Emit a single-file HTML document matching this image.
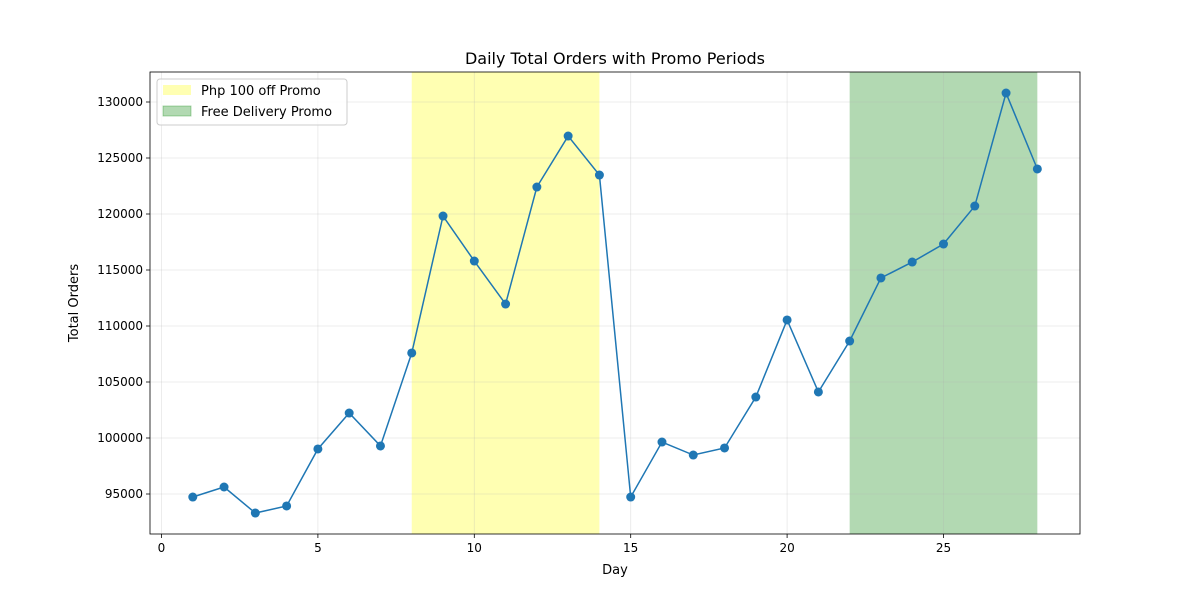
<!DOCTYPE html>
<html><head><meta charset="utf-8">
<style>
html,body{margin:0;padding:0;background:#fff;}
svg{display:block;font-family:"DejaVu Sans","Liberation Sans",sans-serif;}
</style></head>
<body>
<svg id="chart" width="1200" height="600"></svg>
<script>
const days = [1,2,3,4,5,6,7,8,9,10,11,12,13,14,15,16,17,18,19,20,21,22,23,24,25,26,27,28];
const orders = [94730,95625,93300,93930,99020,102230,99290,107590,119820,115800,111960,122410,126960,123480,94730,99640,98480,99110,103660,110540,104110,108660,114290,115710,117320,120710,130800,124020];
const xTicks = [0,5,10,15,20,25];
const yTicks = [95000,100000,105000,110000,115000,120000,125000,130000];
const promo1 = [8,14];
const promo2 = [22,28];

const L=150,R=1080,T=72,B=534;
const x = d => 161.5 + (d-0)*(943.5-161.5)/25;
const y = v => 494 - (v-95000)*(494-102)/35000;
const NS="http://www.w3.org/2000/svg";
const svg=document.getElementById('chart');
function mk(tag,attrs,parent){const e=document.createElementNS(NS,tag);for(const k in attrs)e.setAttribute(k,attrs[k]);(parent||svg).appendChild(e);return e;}

const s1=mk('rect',{x:x(promo1[0]),y:T,width:x(promo1[1])-x(promo1[0]),height:B-T,fill:'#ffff00','fill-opacity':0.3});


const s2=mk('rect',{x:x(promo2[0]),y:T,width:x(promo2[1])-x(promo2[0]),height:B-T,fill:'#008000','fill-opacity':0.3});



xTicks.forEach(t=>{
  const g=mk('line',{x1:x(t),x2:x(t),y1:T,y2:B,stroke:'#b0b0b0','stroke-opacity':0.3,'stroke-width':0.8});
  
  
  mk('line',{x1:x(t),x2:x(t),y1:B,y2:B+4,stroke:'#000','stroke-width':0.8});
  const tx=mk('text',{x:x(t),y:B+18,'text-anchor':'middle','font-size':12});
  tx.textContent=t;
  
  
});
yTicks.forEach(t=>{
  const g=mk('line',{x1:L,x2:R,y1:y(t),y2:y(t),stroke:'#b0b0b0','stroke-opacity':0.3,'stroke-width':0.8});
  
  
  mk('line',{x1:L-4,x2:L,y1:y(t),y2:y(t),stroke:'#000','stroke-width':0.8});
  const tx=mk('text',{x:L-7,y:y(t)+4,'text-anchor':'end','font-size':12});
  tx.textContent=t;
  
  
});

const pts=days.map((d,i)=>x(d)+','+y(orders[i])).join(' ');
const line=mk('polyline',{points:pts,fill:'none',stroke:'#1f77b4','stroke-width':1.5});


days.forEach((d,i)=>{
  const c=mk('circle',{cx:x(d),cy:y(orders[i]),r:4.5,fill:'#1f77b4'});
  
  
});

const fr=mk('rect',{x:L,y:T,width:R-L,height:B-T,fill:'none',stroke:'#000','stroke-width':0.8});



let t=mk('text',{x:615,y:64,'text-anchor':'middle','font-size':16});
t.textContent='Daily Total Orders with Promo Periods';


t=mk('text',{x:615,y:574,'text-anchor':'middle','font-size':13});
t.textContent='Day';


t=mk('text',{x:78,y:303,'text-anchor':'middle','font-size':13,transform:'rotate(-90 78 303)'});
t.textContent='Total Orders';



const lg=mk('g',{});


mk('rect',{x:157,y:79,width:190,height:46,rx:3,fill:'#fff','fill-opacity':0.8,stroke:'#ccc'},lg);
mk('rect',{x:163,y:85,width:28,height:10,fill:'#ffff00','fill-opacity':0.3},lg);
mk('rect',{x:163,y:106,width:28,height:10,fill:'#008000','fill-opacity':0.3,stroke:'#008000','stroke-opacity':0.3},lg);
t=mk('text',{x:201,y:95,'font-size':13},lg);t.textContent='Php 100 off Promo';


t=mk('text',{x:201,y:116,'font-size':13},lg);t.textContent='Free Delivery Promo';


</script>
</body></html>
